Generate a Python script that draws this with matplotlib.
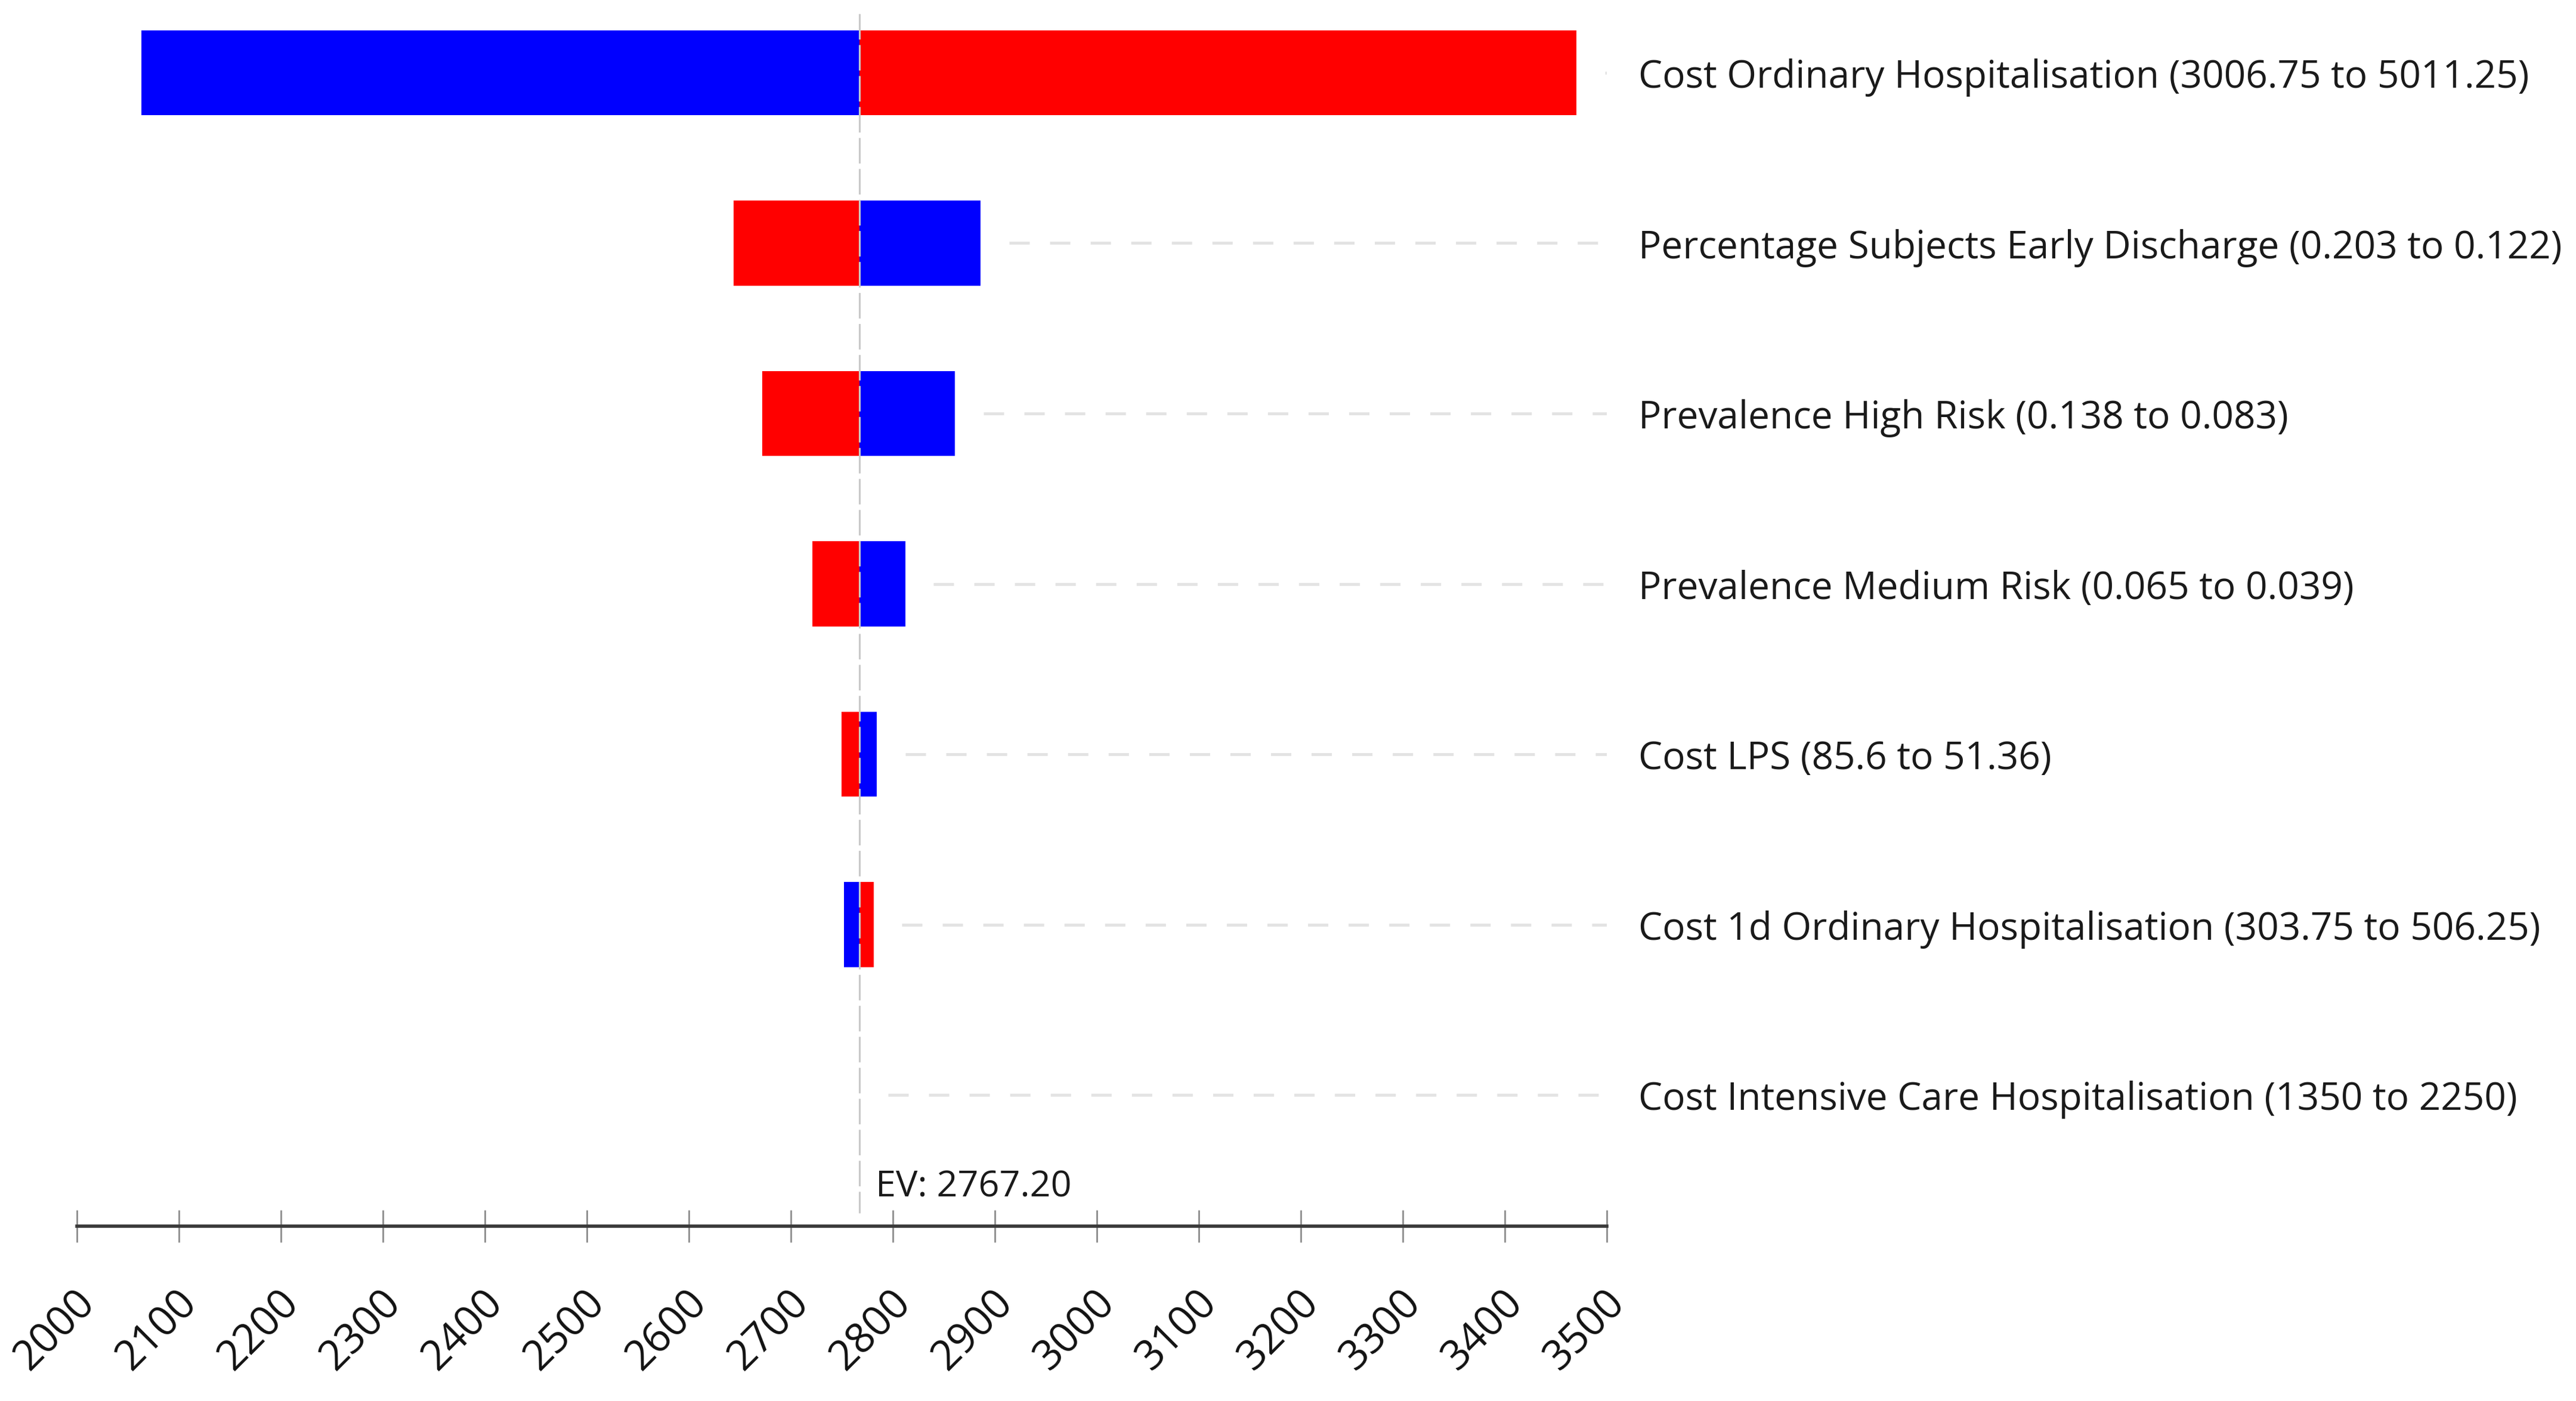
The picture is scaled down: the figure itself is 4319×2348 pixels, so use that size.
import numpy as np
import matplotlib.pyplot as plt
from matplotlib import transforms

plt.rcParams['font.family'] = ['Open Sans', 'DejaVu Sans']

# tornado data: expected value and outcome at low / high end of each parameter
ev = 2767.20
params = ['Cost Ordinary Hospitalisation (3006.75 to 5011.25)',
          'Percentage Subjects Early Discharge (0.203 to 0.122)',
          'Prevalence High Risk (0.138 to 0.083)',
          'Prevalence Medium Risk (0.065 to 0.039)',
          'Cost LPS (85.6 to 51.36)',
          'Cost 1d Ordinary Hospitalisation (303.75 to 506.25)',
          'Cost Intensive Care Hospitalisation (1350 to 2250)']
low_outcome = [2063, 2886, 2861, 2812, 2784, 2752, 2767.2]
high_outcome = [3470, 2644, 2672, 2721, 2750, 2781, 2767.2]
xticks = np.arange(2000, 3501, 100)

fig = plt.figure(figsize=(43.19, 23.48), dpi=100)
ax = fig.add_axes([129/4319, 0.1248, (2694-129)/4319, 1-0.1248])

for i in range(len(params)):
    # blue = low value of the parameter, red = high value
    ax.barh(i, low_outcome[i]-ev, left=ev, height=0.5, color='#0000ff', edgecolor='none')
    ax.barh(i, high_outcome[i]-ev, left=ev, height=0.5, color='#ff0000', edgecolor='none')
    start = max(low_outcome[i], high_outcome[i], ev) + 28
    if start < 3500:
        ax.hlines(i, start, 3500, colors='#e3e3e3', linewidth=3.5, linestyles=(0, (7, 7)))
    ax.text(3531, i+0.088, params[i], fontsize=46, va='baseline', ha='left', color='#1a1a1a', clip_on=False)

ax.vlines(ev, -0.347, 6.693, colors='#c8c8c8', linewidth=2.2, linestyles=(0, (14, 3)))
ax.text(ev+16, 6.596, 'EV: %.2f' % ev, fontsize=44, va='baseline', ha='left', color='#1a1a1a')

ax.set_xlim(2000, 3500)
ax.set_ylim(6.770, -0.427)
ax.set_yticks([])
for s in ['top', 'right', 'left']:
    ax.spines[s].set_visible(False)
ax.spines['bottom'].set_color('#3a3a3a')
ax.spines['bottom'].set_linewidth(4)
ax.set_xticks(xticks)
ax.set_xticklabels([str(t) for t in xticks], rotation=45, ha='right', fontsize=50, color='#111111')
ax.tick_params(axis='x', direction='inout', length=39, width=2, color='#8c8c8c', pad=48)
offset = transforms.ScaledTranslation(45/100, 0, fig.dpi_scale_trans)
for lab in ax.get_xticklabels():
    lab.set_transform(lab.get_transform() + offset)

fig.savefig('out.png', dpi=100, facecolor='white')
